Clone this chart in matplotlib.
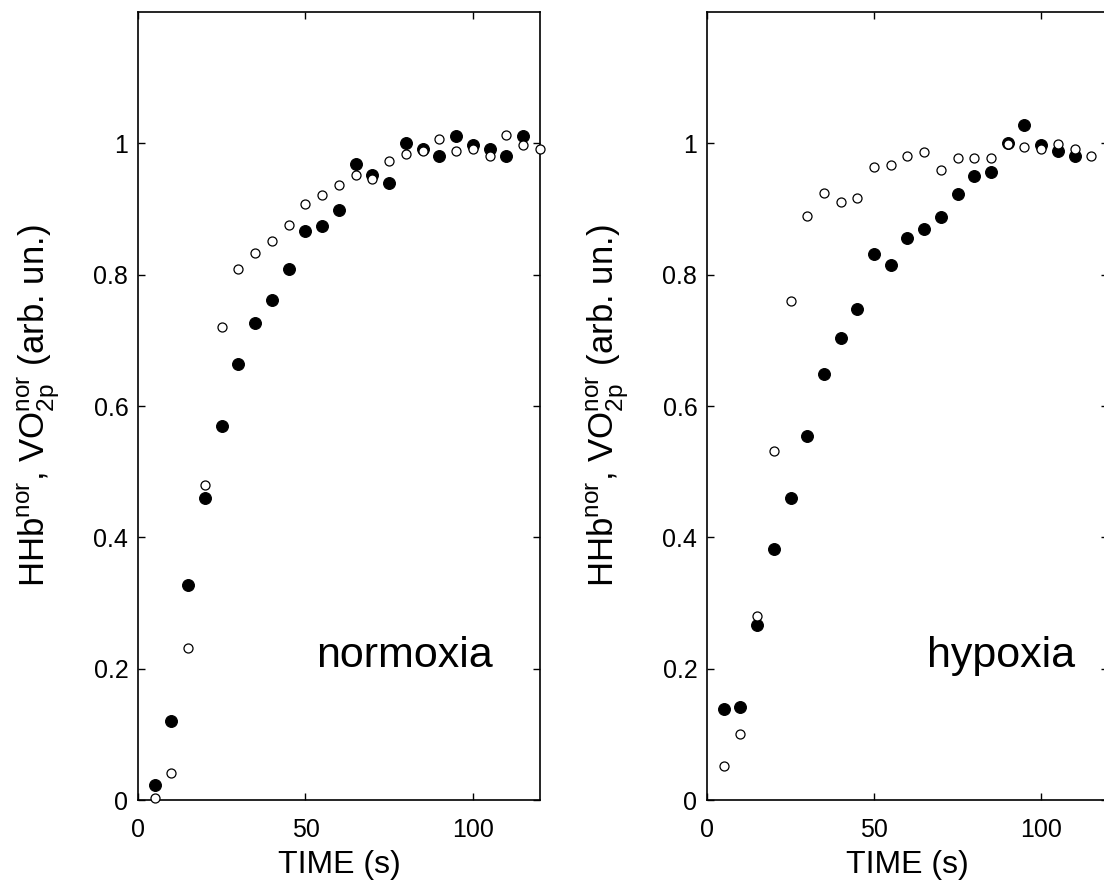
import matplotlib
matplotlib.use("Agg")
import matplotlib.pyplot as plt

plt.rcParams['font.family'] = ['Liberation Sans', 'DejaVu Sans']
plt.rcParams['mathtext.fontset'] = 'custom'
plt.rcParams['mathtext.rm'] = 'Liberation Sans'

# normoxia
norm_t_hhb = [5, 10, 15, 20, 25, 30, 35, 40, 45, 50, 55, 60, 65, 70, 75, 80, 85, 90, 95, 100, 105, 110, 115]
norm_hhb = [0.023, 0.12, 0.328, 0.46, 0.569, 0.664, 0.726, 0.761, 0.808, 0.867, 0.874, 0.899,
            0.969, 0.952, 0.940, 1.0, 0.991, 0.980, 1.011, 0.997, 0.991, 0.980, 1.011]
norm_t_vo2 = [5, 10, 15, 20, 25, 30, 35, 40, 45, 50, 55, 60, 65, 70, 75, 80, 85, 90, 95, 100, 105, 110, 115, 120]
norm_vo2 = [0.003, 0.041, 0.231, 0.48, 0.721, 0.809, 0.833, 0.851, 0.875, 0.907, 0.921, 0.936,
            0.952, 0.946, 0.973, 0.984, 0.988, 1.006, 0.988, 0.991, 0.981, 1.013, 0.998, 0.991]

# hypoxia
hyp_t_hhb = [5, 10, 15, 20, 25, 30, 35, 40, 45, 50, 55, 60, 65, 70, 75, 80, 85, 90, 95, 100, 105, 110]
hyp_hhb = [0.138, 0.142, 0.267, 0.383, 0.46, 0.555, 0.649, 0.703, 0.748, 0.832, 0.814, 0.856,
           0.870, 0.888, 0.923, 0.951, 0.957, 1.0, 1.028, 0.997, 0.989, 0.980]
hyp_t_vo2 = [5, 10, 15, 20, 25, 30, 35, 40, 45, 50, 55, 60, 65, 70, 75, 80, 85, 90, 95, 100, 105, 110, 115]
hyp_vo2 = [0.052, 0.101, 0.28, 0.532, 0.760, 0.889, 0.924, 0.910, 0.917, 0.964, 0.967, 0.981,
           0.987, 0.959, 0.977, 0.977, 0.978, 0.999, 0.994, 0.991, 0.999, 0.991, 0.981]

x_ticks = [0, 50, 100]
y_ticks = [0, 0.2, 0.4, 0.6, 0.8, 1.0]
y_ticklabels = ['0', '0.2', '0.4', '0.6', '0.8', '1']

ylabel = r'HHb$^{\mathregular{nor}}$, VO$_{\mathregular{2p}}^{\mathregular{nor}}$ (arb. un.)'

fig = plt.figure(figsize=(11.04, 8.9), dpi=100)
ax1 = fig.add_axes([0.125, 0.1011, 0.3641, 0.8854])
ax2 = fig.add_axes([0.6404, 0.1011, 0.3632, 0.8854])

panels = [
    (ax1, norm_t_hhb, norm_hhb, norm_t_vo2, norm_vo2, 'normoxia', 53.3),
    (ax2, hyp_t_hhb, hyp_hhb, hyp_t_vo2, hyp_vo2, 'hypoxia', 65.9),
]

for ax, th, hhb, tv, vo2, name, tx in panels:
    ax.plot(th, hhb, 'o', color='black', markersize=8.5, markeredgewidth=0.8,
            clip_on=False, zorder=3)
    ax.plot(tv, vo2, 'o', markerfacecolor='white', markeredgecolor='black',
            markersize=6.5, markeredgewidth=0.9, clip_on=False, zorder=4)
    ax.set_xlim(0, 120)
    ax.set_ylim(0, 1.2)
    ax.set_xticks(x_ticks)
    ax.set_yticks(y_ticks)
    ax.set_yticklabels(y_ticklabels)
    ax.tick_params(axis='both', direction='in', length=5, width=1.0,
                   top=True, right=True, labelsize=18)
    ax.tick_params(axis='x', pad=13)
    ax.tick_params(axis='y', pad=7)
    for sp in ax.spines.values():
        sp.set_linewidth(1.2)
    ax.set_xlabel('TIME (s)', fontsize=23, labelpad=6)
    ax.set_ylabel(ylabel, fontsize=25)
    ax.yaxis.set_label_coords(-0.19, 0.5)
    ax.text(tx, 0.202, name, fontsize=31, ha='left', va='baseline')

fig.savefig('out.png', dpi=100)
